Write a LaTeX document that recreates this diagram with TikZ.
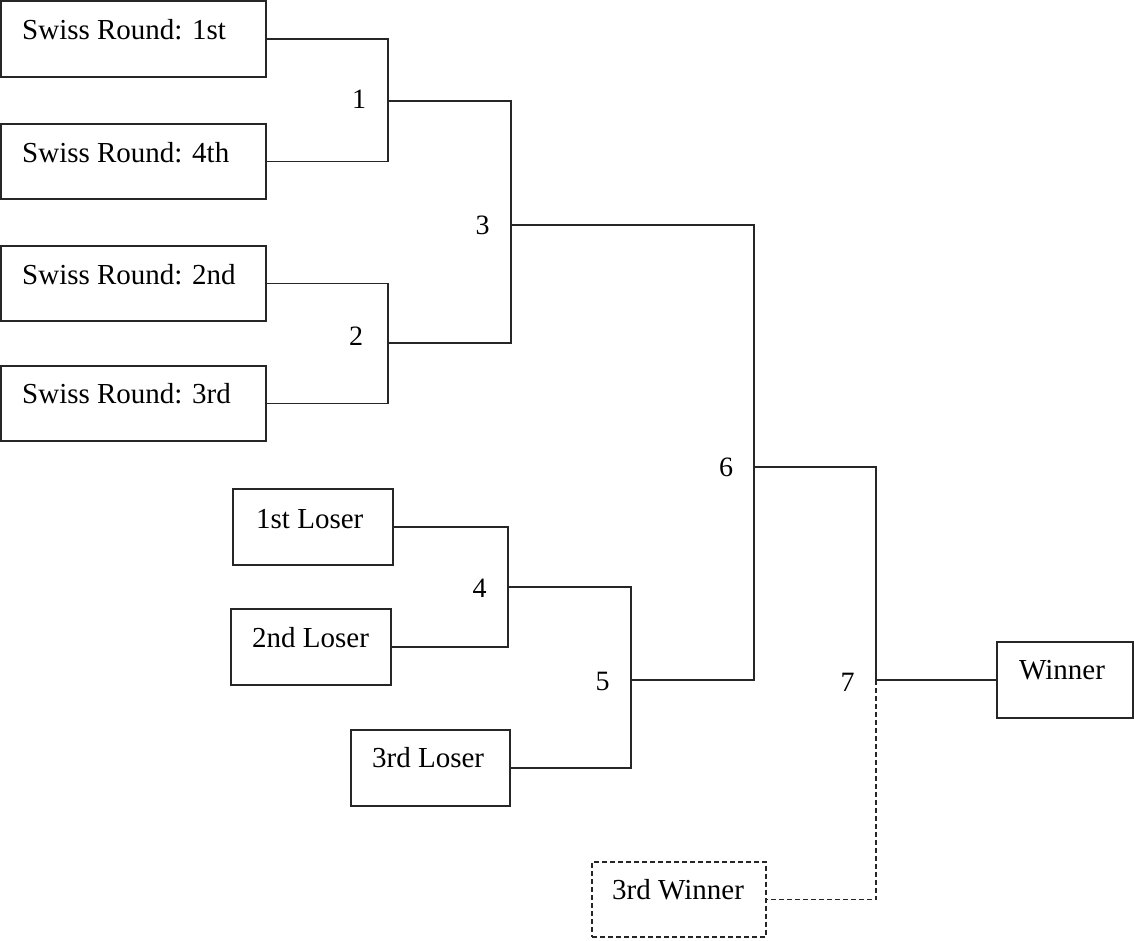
\documentclass[tikz,border=0pt]{standalone}
\usepackage{fontspec}
\setmainfont{Liberation Serif}
\begin{document}
\begin{tikzpicture}[x=1pt,y=-1pt,
  box/.style={draw=black!85, line width=1.2pt, rectangle, anchor=north west, inner sep=0pt, outer sep=0pt},
  dbox/.style={box, dash pattern=on 5pt off 3pt},
  lbl/.style={anchor=base west, inner sep=0pt, font=\fontsize{29}{31}\selectfont},
  num/.style={anchor=base, inner sep=0pt, font=\fontsize{28}{30}\selectfont},
  conn/.style={draw=black!85, line width=1.2pt},
  dconn/.style={conn, dash pattern=on 5pt off 3pt}]
\useasboundingbox (0,0) rectangle (1134,940);
% boxes
\node[box, minimum width=265pt, minimum height=76pt] (s1) at (1,1) {};
\node[box, minimum width=265pt, minimum height=75pt] (s4) at (1,124) {};
\node[box, minimum width=265pt, minimum height=75pt] (s2) at (1,246) {};
\node[box, minimum width=265pt, minimum height=75pt] (s3) at (1,366) {};
\node[box, minimum width=160pt, minimum height=76pt] (l1) at (233,489) {};
\node[box, minimum width=160pt, minimum height=76pt] (l2) at (231,609) {};
\node[box, minimum width=159pt, minimum height=76pt] (l3) at (351,730) {};
\node[box, minimum width=136pt, minimum height=76pt] (w) at (997,642) {};
\node[dbox, minimum width=174pt, minimum height=75pt] (w3) at (592,862) {};
% texts
\node[lbl] (ts1) at (22,39) {Swiss Round: 1st};
\node[lbl] (ts4) at (22,162) {Swiss Round: 4th};
\node[lbl] (ts2) at (22,284) {Swiss Round: 2nd};
\node[lbl] (ts3) at (22,403) {Swiss Round: 3rd};
\node[lbl] (tl1) at (256,528) {1st Loser};
\node[lbl] (tl2) at (252,647) {2nd Loser};
\node[lbl] (tl3) at (372,767) {3rd Loser};
\node[lbl] (tw) at (1019,679) {Winner};
\node[lbl] (tw3) at (612,899) {3rd Winner};
% junctions
\coordinate (m1) at (388,101);
\coordinate (m2) at (388,343);
\coordinate (m3) at (511,225);
\coordinate (m4) at (508,587);
\coordinate (m5) at (631,680);
\coordinate (m6) at (754,467);
\coordinate (m7) at (876,680);
% connectors
\draw[conn] (s1.east) -| (m1) |- (s4.east);
\draw[conn] (s2.east) -| (m2) |- (s3.east);
\draw[conn] (m1) -| (m3) |- (m2);
\draw[conn] (l1.east) -| (m4) |- (l2.east);
\draw[conn] (m4) -| (m5) |- (l3.east);
\draw[conn] (m3) -| (m6) |- (m5);
\draw[conn] (m6) -| (m7) -- (w.west);
\draw[dconn] (m7) |- (w3.east);
% match numbers
\node[num] (n1) at (359,108) {1};
\node[num] (n2) at (356,345) {2};
\node[num] (n3) at (482.5,234) {3};
\node[num] (n4) at (479.5,597) {4};
\node[num] (n5) at (602.5,690) {5};
\node[num] (n6) at (726,476) {6};
\node[num] (n7) at (847.5,691) {7};
\end{tikzpicture}
\end{document}
